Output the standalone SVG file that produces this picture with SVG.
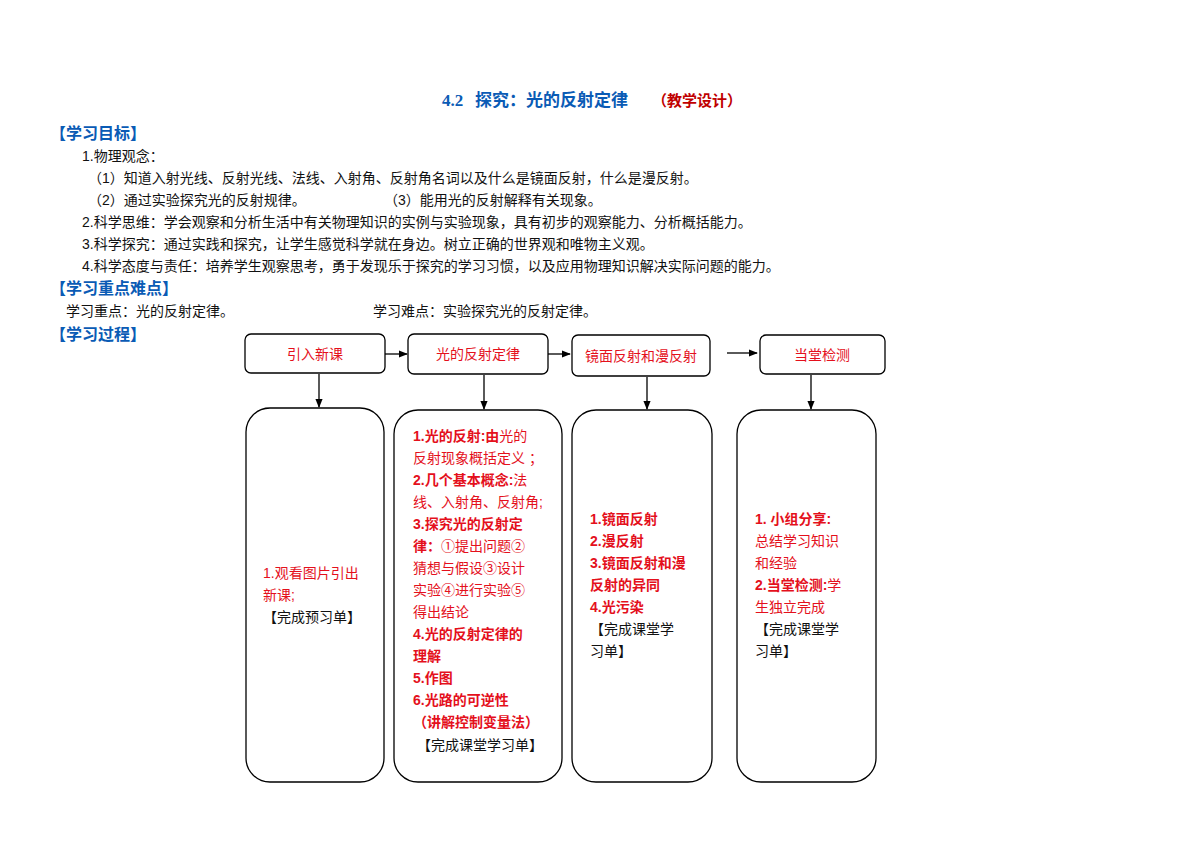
<svg xmlns="http://www.w3.org/2000/svg" width="1200" height="848" viewBox="0 0 1200 848">
<style>
text{font-family:"Liberation Sans","Noto Sans CJK SC",sans-serif;font-size:14px;fill:#111}
.h{fill:#0a5bb5;font-weight:bold;font-size:16px}
.r{fill:#e4101c}
.b{font-weight:bold}
.box{fill:#fff;stroke:#000;stroke-width:1.3}
.c{stroke:#000;stroke-width:1.3;fill:none;marker-end:url(#a)}
</style>
<defs><marker id="a" viewBox="0 0 10 10" refX="9" refY="5" markerWidth="7" markerHeight="7" orient="auto"><path d="M0,1L10,5L0,9z" fill="#000"/></marker></defs>
<rect width="1200" height="848" fill="#fff"/>
<text x="442" y="106" style="font-size:17px;font-weight:bold;fill:#0a5bb5;font-family:'Liberation Serif','Noto Sans CJK SC',serif">4.2 </text>
<text x="475" y="106" class="h" style="font-size:17px">探究：光的反射定律</text>
<text x="652" y="106" class="r b" style="font-size:15px;fill:#c00000">（教学设计）</text>
<text x="50" y="139" class="h">【学习目标】</text>
<text x="82" y="161">1.物理观念：</text>
<text x="88" y="183">（1）知道入射光线、反射光线、法线、入射角、反射角名词以及什么是镜面反射，什么是漫反射。</text>
<text x="88" y="205">（2）通过实验探究光的反射规律。</text>
<text x="384" y="205">（3）能用光的反射解释有关现象。</text>
<text x="82" y="227">2.科学思维：学会观察和分析生活中有关物理知识的实例与实验现象，具有初步的观察能力、分析概括能力。</text>
<text x="82" y="249">3.科学探究：通过实践和探究，让学生感觉科学就在身边。树立正确的世界观和唯物主义观。</text>
<text x="82" y="271">4.科学态度与责任：培养学生观察思考，勇于发现乐于探究的学习习惯，以及应用物理知识解决实际问题的能力。</text>
<text x="50" y="294" class="h">【学习重点难点】</text>
<text x="66" y="316">学习重点：光的反射定律。</text>
<text x="373" y="316">学习难点：实验探究光的反射定律。</text>
<text x="50" y="340" class="h">【学习过程】</text>
<g id="connectors">
<path class="c" d="M385,354H407"/>
<path class="c" d="M548,354H570"/>
<path class="c" d="M727,353H757"/>
<path class="c" d="M319,374V407"/>
<path class="c" d="M484,375V409"/>
<path class="c" d="M647,377V409"/>
<path class="c" d="M811,375V409"/>
</g>
<g id="n1"><rect class="box" x="245" y="334" width="140" height="39" rx="6"/><text x="315" y="359" text-anchor="middle" class="r">引入新课</text></g>
<g id="n2"><rect class="box" x="408" y="334" width="140" height="40" rx="6"/><text x="478" y="359" text-anchor="middle" class="r">光的反射定律</text></g>
<g id="n3"><rect class="box" x="572" y="335" width="138" height="41" rx="6"/><text x="641" y="361" text-anchor="middle" class="r">镜面反射和漫反射</text></g>
<g id="n4"><rect class="box" x="760" y="335" width="125" height="39" rx="6"/><text x="822" y="360" text-anchor="middle" class="r">当堂检测</text></g>
<g id="b1"><rect class="box" x="246" y="408" width="138" height="374" rx="24"/>
<text x="263" y="578" class="r">1.观看图片引出</text>
<text x="263" y="600" class="r">新课;</text>
<text x="263" y="622">【完成预习单】</text></g>
<g id="b2"><rect class="box" x="394" y="410" width="168" height="372" rx="24"/>
<text x="413" y="441" class="r"><tspan class="b">1.光的反射:由</tspan>光的</text>
<text x="413" y="463" class="r">反射现象概括定义 ；</text>
<text x="413" y="485" class="r"><tspan class="b">2.几个基本概念:</tspan>法</text>
<text x="413" y="507" class="r">线、入射角、反射角;</text>
<text x="413" y="529" class="r b">3.探究光的反射定</text>
<text x="413" y="551" class="r"><tspan class="b">律：</tspan>①提出问题②</text>
<text x="413" y="573" class="r">猜想与假设③设计</text>
<text x="413" y="595" class="r">实验④进行实验⑤</text>
<text x="413" y="617" class="r">得出结论</text>
<text x="413" y="639" class="r b">4.光的反射定律的</text>
<text x="413" y="661" class="r b">理解</text>
<text x="413" y="683" class="r b">5.作图</text>
<text x="413" y="705" class="r b">6.光路的可逆性</text>
<text x="413" y="727" class="r b">（讲解控制变量法）</text>
<text x="417" y="750">【完成课堂学习单】</text></g>
<g id="b3"><rect class="box" x="572" y="410" width="140" height="372" rx="24"/>
<text x="590" y="524" class="r b">1.镜面反射</text>
<text x="590" y="546" class="r b">2.漫反射</text>
<text x="590" y="568" class="r b">3.镜面反射和漫</text>
<text x="590" y="590" class="r b">反射的异同</text>
<text x="590" y="612" class="r b">4.光污染</text>
<text x="590" y="634">【完成课堂学</text>
<text x="590" y="656">习单】</text></g>
<g id="b4"><rect class="box" x="737" y="410" width="139" height="372" rx="24"/>
<text x="755" y="524" class="r b">1.  小组分享:</text>
<text x="755" y="546" class="r">总结学习知识</text>
<text x="755" y="568" class="r">和经验</text>
<text x="755" y="590" class="r"><tspan class="b">2.当堂检测:</tspan>学</text>
<text x="755" y="612" class="r">生独立完成</text>
<text x="755" y="634">【完成课堂学</text>
<text x="755" y="656">习单】</text></g>
</svg>
